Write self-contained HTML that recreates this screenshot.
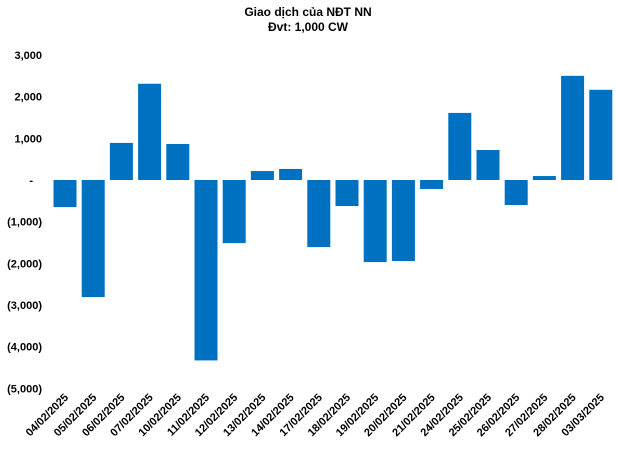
<!DOCTYPE html>
<html><head><meta charset="utf-8"><style>
body{margin:0;background:#fff;width:617px;height:450px;overflow:hidden}
text{font-family:"Liberation Sans",Arial,sans-serif;font-weight:bold;fill:#000}
</style></head><body>
<svg id="chart" width="617" height="450" xmlns="http://www.w3.org/2000/svg">
<text x="308" y="16" font-size="12" text-anchor="middle">Giao dịch của NĐT NN</text>
<text x="308" y="31" font-size="12" text-anchor="middle">Đvt: 1,000 CW</text>
<g id="yaxis"></g><g id="bars"></g><g id="xaxis"></g>
</svg>
<script>
const categories=["04/02/2025","05/02/2025","06/02/2025","07/02/2025","10/02/2025","11/02/2025","12/02/2025","13/02/2025","14/02/2025","17/02/2025","18/02/2025","19/02/2025","20/02/2025","21/02/2025","24/02/2025","25/02/2025","26/02/2025","27/02/2025","28/02/2025","03/03/2025"];
const values=[-650,-2810,890,2310,865,-4330,-1515,215,265,-1610,-625,-1970,-1945,-215,1610,720,-600,95,2500,2165];
const yTicks=[3000,2000,1000,0,-1000,-2000,-3000,-4000,-5000];
const yTickLabels=["3,000","2,000","1,000","-","(1,000)","(2,000)","(3,000)","(4,000)","(5,000)"];
const NS="http://www.w3.org/2000/svg";
const y=v=>180-v*(125/3000);
const step=28.2, x0=65;
const x=i=>x0+i*step;
const bw=23;
const ya=document.getElementById('yaxis'),ba=document.getElementById('bars'),xa=document.getElementById('xaxis');
yTicks.forEach((t,i)=>{
 const tx=document.createElementNS(NS,'text');
 
 
 tx.setAttribute('x',t===0?33:42);tx.setAttribute('y',y(t)+4);
 tx.setAttribute('text-anchor','end');tx.setAttribute('font-size','11');
 tx.textContent=yTickLabels[i];ya.appendChild(tx);
});
values.forEach((v,i)=>{
 const r=document.createElementNS(NS,'rect');
 
 
 r.setAttribute('x',x(i)-bw/2);r.setAttribute('width',bw);
 r.setAttribute('y',Math.min(y(v),y(0)));r.setAttribute('height',Math.abs(y(v)-y(0)));
 r.setAttribute('fill','#0070C0');ba.appendChild(r);
});
categories.forEach((c,i)=>{
 const tx=document.createElementNS(NS,'text');
 
 
 const cx=x(i)+4,cy=398;
 tx.setAttribute('x',cx);tx.setAttribute('y',cy);
 tx.setAttribute('text-anchor','end');tx.setAttribute('font-size','11');
 tx.setAttribute('transform','rotate(-45 '+cx+' '+cy+')');
 tx.textContent=c;xa.appendChild(tx);
});
</script>
</body></html>
